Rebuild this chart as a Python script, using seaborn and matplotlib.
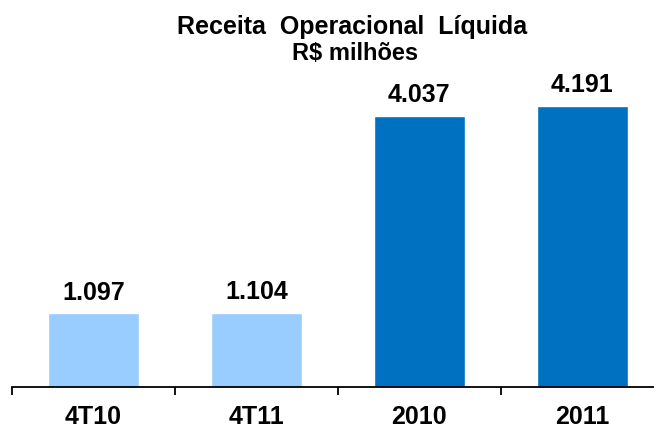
import matplotlib
matplotlib.use("Agg")
import matplotlib.pyplot as plt
import seaborn as sns
import pandas as pd

categories = ["4T10", "4T11", "2010", "2011"]
values = [1097, 1104, 4037, 4191]
labels = ["1.097", "1.104", "4.037", "4.191"]
bar_colors = ["#99CCFF", "#99CCFF", "#0070C0", "#0070C0"]
title = "Receita  Operacional  Líquida"
subtitle = "R$ milhões"

sns.set_theme(style="white")
plt.rcParams["font.family"] = ["Liberation Sans", "DejaVu Sans"]

df = pd.DataFrame({"cat": categories, "val": values})

fig = plt.figure(figsize=(6.54, 4.30), dpi=100)
ax = fig.add_axes([12 / 654, 43 / 430, 642 / 654, 387 / 430])

sns.barplot(data=df, x="cat", y="val", hue="cat", palette=bar_colors,
            width=0.56, legend=False, ax=ax, saturation=1)

for i, (v, lab) in enumerate(zip(values, labels)):
    ax.annotate(lab, xy=(i, v), xytext=(0, 10), textcoords="offset points",
                ha="center", va="baseline", fontsize=18, fontweight="bold",
                color="black")

ax.set_xlabel("")
ax.set_ylabel("")
ax.set_yticks([])
for s in ["top", "right", "left"]:
    ax.spines[s].set_visible(False)
ax.spines["bottom"].set_color("black")
ax.spines["bottom"].set_linewidth(1.3)

ax.set_xticks(range(len(categories)))
ax.set_xticklabels(categories, fontsize=18, fontweight="bold", color="black")
ax.set_xticks([-0.5, 0.5, 1.5, 2.5, 3.5], minor=True)
ax.tick_params(axis="x", which="major", length=0, pad=13)
ax.tick_params(axis="x", which="minor", length=6, width=1.3, color="black",
               direction="out", bottom=True)
ax.set_xlim(-0.5, 3.44)
ax.set_ylim(0, 5772)

fig.text(352 / 654, 1 - 34 / 430, title, ha="center", va="baseline",
         fontsize=18, fontweight="bold", color="black")
fig.text(355 / 654, 1 - 60 / 430, subtitle, ha="center", va="baseline",
         fontsize=17, fontweight="bold", color="black")

fig.savefig("out.png", dpi=100)
